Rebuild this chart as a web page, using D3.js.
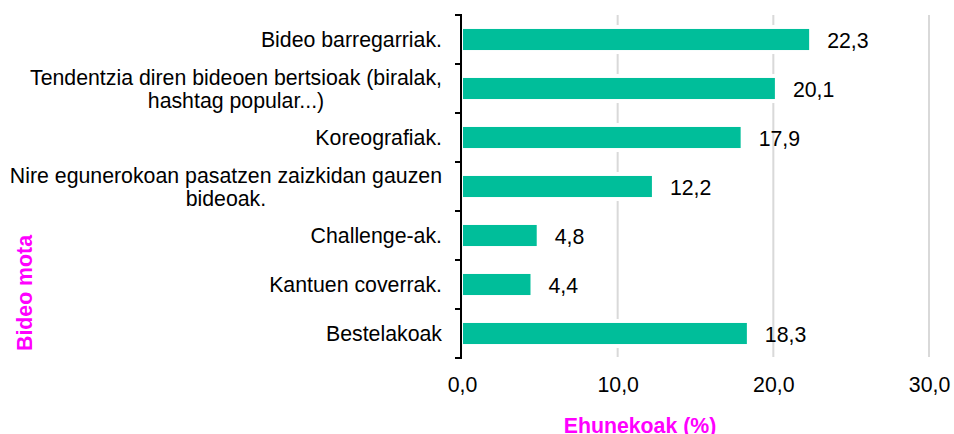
<!DOCTYPE html>
<html>
<head>
<meta charset="utf-8">
<script src="https://cdn.jsdelivr.net/npm/d3@7"></script>
<style>
  html, body { margin: 0; padding: 0; background: #fff; }
  svg { display: block; font-family: "Liberation Sans", Arial, sans-serif; }
</style>
</head>
<body>
<svg id="chart" width="954" height="434"></svg>
<script>
const categories = [
  "Bideo barregarriak.",
  "Tendentzia diren bideoen bertsioak (biralak, hashtag popular...)",
  "Koreografiak.",
  "Nire egunerokoan pasatzen zaizkidan gauzen bideoak.",
  "Challenge-ak.",
  "Kantuen coverrak.",
  "Bestelakoak"
];
const values = [22.3, 20.1, 17.9, 12.2, 4.8, 4.4, 18.3];
const xTicks = [0, 10, 20, 30];
const xTitle = "Ehunekoak (%)";
const yTitle = "Bideo mota";

const svg = d3.select("#chart");
const barColor = "#00BE9A";
const magenta = "#FF00FF";
const fontSize = 21.3;

const x = d3.scaleLinear().domain([0, 30]).range([462, 929]);
const y = d3.scaleBand().domain(categories).range([15, 358])
  .paddingInner(0.57).paddingOuter(0.285);

const fmt = d => d.toFixed(1).replace(".", ",");
const [y0, y1] = y.range();

// gridlines
svg.append("g").selectAll("line")
  .data(xTicks.filter(d => d > 0))
  .join("line")
  .attr("x1", d => x(d)).attr("x2", d => x(d))
  .attr("y1", y0).attr("y2", y1 - 1)
  .attr("stroke", "#d9d9d9").attr("stroke-width", 2);

// white backing behind bars (gridline gaps)
svg.append("g").selectAll("rect")
  .data(categories)
  .join("rect")
  .attr("x", x(0))
  .attr("y", d => y(d) - 4)
  .attr("width", (d, i) => x(values[i]) - x(0) + 1)
  .attr("height", y.bandwidth() + 8)
  .attr("fill", "#fff");

// bars
svg.append("g").selectAll("rect")
  .data(categories)
  .join("rect")
  .attr("x", x(0) + 1)
  .attr("y", d => y(d))
  .attr("width", (d, i) => x(values[i]) - x(0) - 1)
  .attr("height", y.bandwidth())
  .attr("fill", barColor);

// value labels
svg.append("g").selectAll("text")
  .data(categories)
  .join("text")
  .attr("x", (d, i) => x(values[i]) + 18)
  .attr("y", d => y(d) + y.bandwidth() / 2 + 8)
  .attr("font-size", fontSize)
  .attr("fill", "#000")
  .text((d, i) => fmt(values[i]));

// y axis line + boundary ticks
const yAxisG = svg.append("g");
yAxisG.append("line")
  .attr("x1", x(0) - 1).attr("x2", x(0) - 1)
  .attr("y1", y0 - 1).attr("y2", y1 + 1)
  .attr("stroke", "#000").attr("stroke-width", 2);
const step = y.step();
yAxisG.selectAll("line.tick")
  .data(d3.range(categories.length + 1))
  .join("line")
  .attr("class", "tick")
  .attr("x1", x(0) - 7).attr("x2", x(0) - 1)
  .attr("y1", i => y0 + i * step).attr("y2", i => y0 + i * step)
  .attr("stroke", "#000").attr("stroke-width", 2);

// category labels with wrapping
const labelRight = 442;
const maxW = 445;
const lineH = 23.5;
const labG = svg.append("g").attr("font-size", fontSize).attr("fill", "#000");
const measure = labG.append("text").attr("visibility", "hidden");
function width(s) { measure.text(s); return measure.node().getComputedTextLength(); }
categories.forEach(cat => {
  const words = cat.split(" ");
  const lines = [];
  let cur = "";
  words.forEach(w => {
    const test = cur ? cur + " " + w : w;
    if (cur && width(test) > maxW) { lines.push(cur); cur = w; }
    else cur = test;
  });
  lines.push(cur);
  const bw = d3.max(lines, width);
  const cx = labelRight - bw / 2;
  const cy = y(cat) + y.bandwidth() / 2;
  const t = labG.append("text").attr("text-anchor", "middle");
  lines.forEach((ln, i) => {
    t.append("tspan")
      .attr("x", cx)
      .attr("y", cy + 7.8 + (i - (lines.length - 1) / 2) * lineH)
      .text(ln);
  });
});
measure.remove();

// x axis tick labels
const xAxis = d3.axisBottom(x).tickValues(xTicks).tickFormat(fmt)
  .tickSize(0).tickPadding(18.5);
const gx = svg.append("g").attr("transform", `translate(0,${y1})`).call(xAxis);
gx.select(".domain").remove();
gx.selectAll("text").attr("font-size", fontSize)
  .attr("font-family", "Liberation Sans, Arial, sans-serif").attr("fill", "#000");

// axis titles
svg.append("text")
  .attr("x", 640).attr("y", 433)
  .attr("text-anchor", "middle")
  .attr("font-size", fontSize).attr("font-weight", "bold")
  .attr("fill", magenta)
  .text(xTitle);

svg.append("text")
  .attr("transform", "translate(32,293) rotate(-90)")
  .attr("text-anchor", "middle")
  .attr("font-size", fontSize).attr("font-weight", "bold")
  .attr("fill", magenta)
  .text(yTitle);
</script>
</body>
</html>
